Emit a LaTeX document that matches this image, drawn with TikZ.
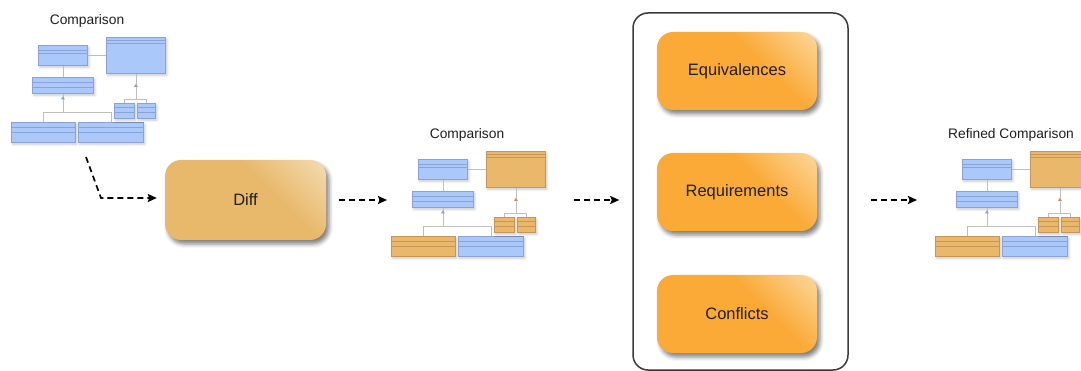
\documentclass[tikz,border=0pt]{standalone}
\usepackage{fontspec}
\setmainfont{Liberation Sans}
\usetikzlibrary{arrows.meta, shadows.blur}

% palette
\definecolor{ink}{RGB}{30,30,30}
\definecolor{frame}{RGB}{58,58,58}
\definecolor{ubF}{RGB}{170,200,250}
\definecolor{ubD}{RGB}{138,162,212}
\definecolor{uoF}{RGB}{233,184,106}
\definecolor{uoD}{RGB}{198,150,88}
\definecolor{linkgray}{RGB}{190,190,190}

% glossy fills: flat base colour with a light top-right corner
\pgfdeclarehorizontalshading{glossorange}{100bp}{rgb(0bp)=(0.984,0.667,0.220); rgb(60bp)=(0.984,0.667,0.220); rgb(82bp)=(0.992,0.820,0.560); rgb(100bp)=(0.992,0.820,0.560)}
\pgfdeclarehorizontalshading{glosstan}{100bp}{rgb(0bp)=(0.910,0.722,0.420); rgb(60bp)=(0.910,0.722,0.420); rgb(82bp)=(0.950,0.845,0.660); rgb(100bp)=(0.950,0.845,0.660)}

\tikzset{
  title/.style={inner sep=0pt, text=ink, font=\fontsize{13.8}{16}\selectfont},
  umlnode/.style={rectangle, anchor=north west, inner sep=0pt, line width=0.8pt,
    blur shadow={shadow xshift=1.5pt, shadow yshift=-1.8pt, shadow blur radius=2.5pt, shadow opacity=22}},
  ublue/.style={fill=ubF, draw=ubD},
  uorange/.style={fill=uoF, draw=uoD},
  ublue rule/.style={draw=ubD, line width=0.7pt},
  uorange rule/.style={draw=uoD, line width=0.7pt},
  ublue mark/.style={fill=ubD},
  uorange mark/.style={fill=uoD},
  link/.style={draw=linkgray, line width=0.8pt},
  task/.style={rectangle, rounded corners=16pt, minimum width=160pt, minimum height=78pt,
    inner sep=0pt, text=ink, font=\fontsize{16.5}{18}\selectfont, shade, shading angle=45,
    blur shadow={shadow xshift=3pt, shadow yshift=-4pt, shadow blur radius=4pt, shadow opacity=50}},
  checkbox/.style={task, shading=glossorange},
  diffbox/.style={task, shading=glosstan, minimum width=161pt, minimum height=80pt},
  stage/.style={draw=frame, line width=1.5pt, rounded corners=15pt,
    minimum width=215pt, minimum height=357pt, inner sep=0pt},
  flow/.style={draw=black, line width=1.7pt, dash pattern=on 6pt off 4pt,
    -{Stealth[length=9pt, width=8pt, inset=1.5pt]}},
}

% one class box with its two compartment rules: name, colour, x, y, width, height, rule offsets
\newcommand\classbox[8]{%
  \node[umlnode, #2, minimum width=#5pt, minimum height=#6pt] (#1) at (#3,#4) {};
  \draw[#2 rule] ([yshift=-#7pt]#1.north west) -- ([yshift=-#7pt]#1.north east)
                 ([yshift=-#8pt]#1.north west) -- ([yshift=-#8pt]#1.north east);
}

% a small class diagram: prefix, shift, colour of classes B/D/F/G, title
\newcommand\classdiagram[4]{%
  \begin{scope}[shift={#2}]
    \node[title] (#1T) at (87,20.5) {#4};
    \classbox{#1A}{ublue}{38}{45}{49}{20}{5}{8}
    \classbox{#1B}{#3}{106}{37}{59}{36}{3}{6}
    \classbox{#1C}{ublue}{32}{77}{61}{16}{5}{10}
    \classbox{#1D}{#3}{11}{122}{64}{20}{5}{10}
    \classbox{#1E}{ublue}{78}{122}{65}{20}{5}{10}
    \classbox{#1F}{#3}{114}{103}{20}{15}{4}{9}
    \classbox{#1G}{#3}{137}{103}{18}{15}{4}{9}
    \draw[link] (#1A.east) -- (#1A.east -| #1B.west);
    \draw[link] (#1A.south) -- (#1C.north);
    \draw[link] (#1C.south) -- ++(0,19) coordinate (#1j1) -| (#1D.north);
    \draw[link] (#1j1) -| (#1E.north);
    \draw[link] (#1B.south) -- ++(0,26) coordinate (#1j2) -| (#1F.north);
    \draw[link] (#1j2) -| (#1G.north);
    \fill[ublue mark] ([yshift=-2.5pt]#1C.south) -- ([shift={(2pt,-5.5pt)}]#1C.south)
      -- ([shift={(-2pt,-5.5pt)}]#1C.south) -- cycle;
    \fill[#3 mark] ([yshift=-10pt]#1B.south) -- ([shift={(2pt,-13pt)}]#1B.south)
      -- ([shift={(-2pt,-13pt)}]#1B.south) -- cycle;
  \end{scope}%
}

\begin{document}
\begin{tikzpicture}[x=1pt, y=-1pt]
  \useasboundingbox (0,0) rectangle (1081,371);
  \clip (0,0) rectangle (1081,371);

  % input, diff result and refined result
  \classdiagram{in}{(0,0)}{ublue}{Comparison}
  \classdiagram{cmp}{(380,114)}{uorange}{Comparison}
  \classdiagram{ref}{(924,114)}{uorange}{Refined Comparison}

  % diff step
  \node[diffbox] (diff) at (245.5,200) {Diff};

  % refinement stage with its three checks
  \node[stage] (stage) at (740.5,191.5) {};
  \node[checkbox] (equiv) at (737,71) {Equivalences};
  \node[checkbox] (req) at (737,192) {Requirements};
  \node[checkbox] (conf) at (737,314) {Conflicts};

  % flow between the steps
  \coordinate (start) at (86,157);
  \draw[flow, shorten >=8pt] (start) -- ++(15,41) -- (diff.west |- 0,198);
  \draw[flow, shorten <=13pt, shorten >=4pt] (diff.east) -- (diff.east -| cmpD.west);
  \draw[flow, shorten <=28pt, shorten >=13pt] (cmpB.east |- diff.east) -- (stage.west |- diff.east);
  \draw[flow, shorten <=22pt, shorten >=18pt] (stage.east |- diff.east) -- (refD.west |- diff.east);
\end{tikzpicture}
\end{document}
